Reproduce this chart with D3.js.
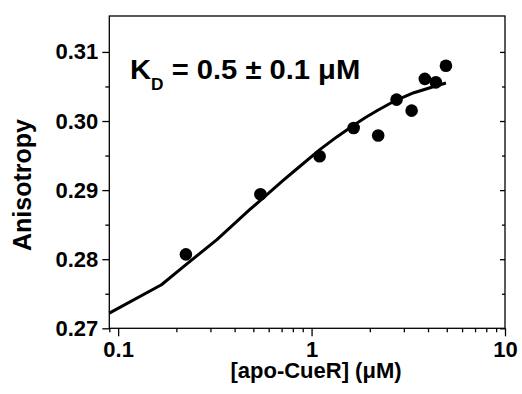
<!DOCTYPE html>
<html>
  <head>
    <meta charset="utf-8">
    <title>anisotropy vs apo-CueR</title>
    <script src="https://d3js.org/d3.v7.min.js"></script>
    <style>
      body { margin: 0; background: #fff; }
      text { font-family: Arial, "Liberation Sans", sans-serif; font-weight: bold; fill: #000; }
    </style>
  </head>
  <body>
  <svg id="chart" width="522" height="394"></svg>
  <script>
    // measured points
    var conc = [0.224, 0.544, 1.10, 1.65, 2.21, 2.75, 3.29, 3.85, 4.39, 4.95];
    var aniso = [0.2807, 0.2894, 0.2949, 0.2990, 0.2979, 0.3031, 0.3015, 0.3061, 0.3056, 0.3080];

    // fit curve
    var fitConc = [0.09, 0.1675, 0.217, 0.323, 0.38, 0.48, 0.58, 0.713, 0.85, 1.107, 1.35, 1.65, 1.9, 2.21, 2.73, 3.38, 4.3, 4.95];
    var fitAniso = [0.2722, 0.2763, 0.2789, 0.2828, 0.2846, 0.2872, 0.2892, 0.2914, 0.2932, 0.2959, 0.2977, 0.2994, 0.3005, 0.3016, 0.3030, 0.3041, 0.3050, 0.3055];

    var xMajor = [0.1, 1, 10];
    var xMinor = [0.09, 0.2, 0.3, 0.4, 0.5, 0.6, 0.7, 0.8, 0.9, 2, 3, 4, 5, 6, 7, 8, 9];
    var yMajor = [0.27, 0.28, 0.29, 0.30, 0.31];
    var yMinor = [0.275, 0.285, 0.295, 0.305];

    // plot box (window.top is taken, so prefixed names)
    var pLeft = 109.3, pRight = 505, pTop = 16, pBottom = 328.3;

    var svg = d3.select("#chart");

    var x = d3.scaleLog().domain([0.09, 10]).range([pLeft, pRight]);
    var y = d3.scaleLinear().domain([0.27, 0.3152]).range([pBottom, pTop]);

    // bottom axis
    var gx = svg.append("g").attr("transform", "translate(0," + pBottom + ")");
    gx.call(d3.axisBottom(x).tickValues(xMajor).tickSize(8).tickPadding(5)
      .tickFormat(function(d) { return d < 1 ? "0.1" : String(d); }));
    var gx2 = svg.append("g").attr("transform", "translate(0," + pBottom + ")");
    gx2.call(d3.axisBottom(x).tickValues(xMinor).tickSize(4).tickFormat(""));

    // left axis
    var gy = svg.append("g").attr("transform", "translate(" + pLeft + ",0)");
    gy.call(d3.axisLeft(y).tickValues(yMajor).tickSize(7).tickPadding(4).tickFormat(d3.format(".2f")));
    var gy2 = svg.append("g").attr("transform", "translate(" + pLeft + ",0)");
    gy2.call(d3.axisLeft(y).tickValues(yMinor).tickSize(4).tickFormat(""));

    // right side ticks pointing in
    var gr = svg.append("g").attr("transform", "translate(" + pRight + ",0)");
    gr.call(d3.axisLeft(y).tickValues(yMajor).tickSize(5).tickFormat(""));
    var gr2 = svg.append("g").attr("transform", "translate(" + pRight + ",0)");
    gr2.call(d3.axisLeft(y).tickValues(yMinor).tickSize(3).tickFormat(""));

    svg.selectAll(".domain").remove();
    svg.selectAll(".tick line").attr("stroke", "#000").attr("stroke-width", 1.3);
    svg.selectAll(".tick text").style("font-size", "22px").attr("fill", "#000");

    // frame
    svg.append("rect")
      .attr("x", pLeft).attr("y", pTop)
      .attr("width", pRight - pLeft).attr("height", pBottom - pTop)
      .attr("fill", "none").attr("stroke", "#000").attr("stroke-width", 1.3);

    // fit line
    var fit = fitConc.map(function(c, i) { return [c, fitAniso[i]]; });
    svg.append("path")
      .datum(fit)
      .attr("fill", "none")
      .attr("stroke", "#000")
      .attr("stroke-width", 3)
      .attr("stroke-linejoin", "round")
      .attr("d", d3.line().x(function(d) { return x(d[0]); }).y(function(d) { return y(d[1]); }));

    // points
    svg.append("g").selectAll("circle")
      .data(conc)
      .enter()
      .append("circle")
      .attr("cx", function(d) { return x(d); })
      .attr("cy", function(d, i) { return y(aniso[i]); })
      .attr("r", 6.3)
      .attr("fill", "#000");

    // axis titles
    svg.append("text")
      .attr("x", 316).attr("y", 378)
      .attr("text-anchor", "middle")
      .style("font-size", "22px")
      .text("[apo-CueR] (\u03bcM)");

    svg.append("text")
      .attr("transform", "translate(31,185) rotate(-90)")
      .attr("text-anchor", "middle")
      .style("font-size", "25px")
      .text("Anisotropy");

    // K_D annotation
    var kd = svg.append("text")
      .attr("transform", "translate(130,79) scale(1.08,1)")
      .style("font-size", "27px");
    kd.append("tspan").text("K");
    kd.append("tspan").attr("dy", 11).style("font-size", "16px").text("D");
    kd.append("tspan").attr("dy", -11).text(" = 0.5 \u00b1 0.1 \u03bcM");
  </script>
  </body>
</html>
